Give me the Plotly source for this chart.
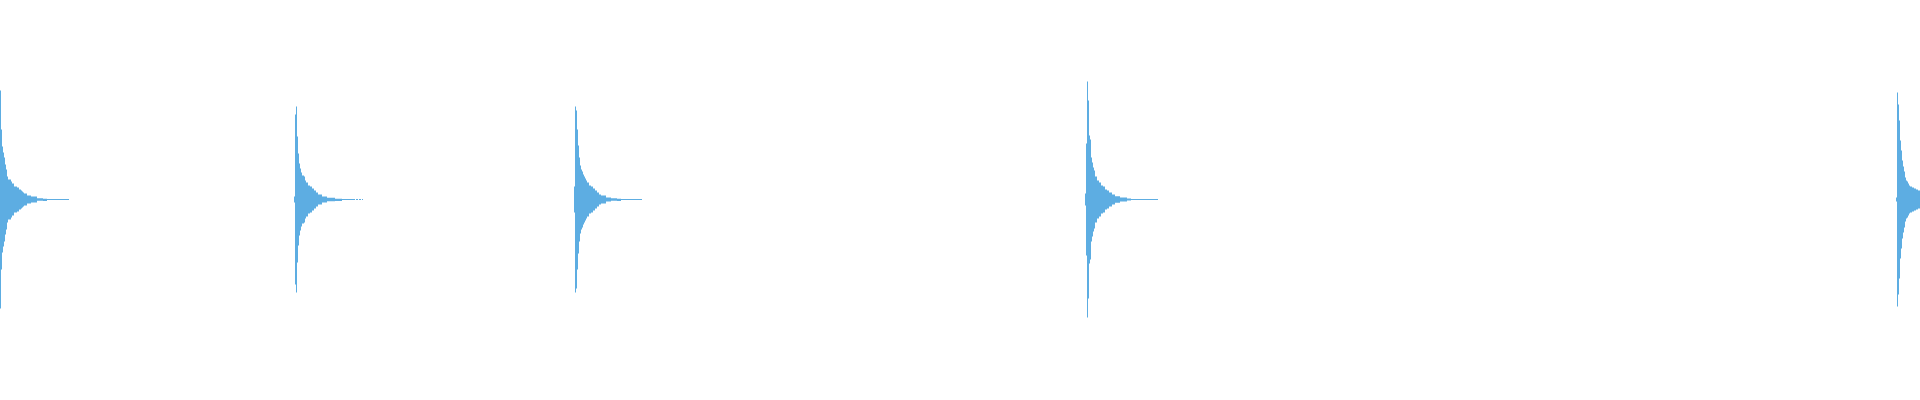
import plotly.graph_objects as go

# Waveform peaks, one value per 10 ms bin (symmetric around zero)
bin_ms = 10
total_ms = 19200

onsets_ms = [0, 2940, 5740, 10850, 18960]

peaks_1 = [109, 70, 53, 47, 42, 35, 30, 23, 20, 20, 20, 18, 16, 16, 13, 13, 13, 12, 12, 10,
           10, 9, 8, 7, 6, 6, 6, 4, 4, 4, 4, 3, 3, 3, 3, 3, 3, 1.3, 1.3, 1.3,
           1.3, 1.3, 1.3, 0.7, 0.7, 0.7, 0.7] + [0.5] * 22
peaks_2 = [3, 85, 93, 63, 46, 36, 31, 27, 24, 24, 23, 19, 17, 17, 14, 14, 13, 13, 11, 11,
           9, 9, 7, 7, 5, 5, 5, 5, 3, 3, 3, 3, 3] + [1.7] * 8 + [0.7] * 7 + \
          [0.5] * 12 + [0.5, 0, 0.5, 0.5, 0, 0.5, 0.5, 0, 0.5]
peaks_3 = [13, 93, 89, 70, 54, 42, 34, 30, 28, 25, 23, 21, 19, 17, 17, 14, 14, 13, 13, 11,
           11, 9, 9, 7, 7, 5, 5, 4, 4, 4, 4, 4, 2, 2, 2, 2, 2] + [1.3] * 6 + [0.7] * 4 + [0.5] * 21
peaks_4 = [6, 56, 118, 99, 64, 60, 42, 37, 32, 29, 23, 23, 19, 19, 17, 17, 14, 14, 13, 13,
           10, 10, 9, 9, 7, 7, 7, 5, 5, 5] + [3.3] * 5 + [2] * 7 + [1] * 4 + [0.5] * 27
peaks_5 = [2, 107, 95, 79, 59, 49, 39, 33, 28, 22, 19, 18, 16, 14, 13, 13, 12, 12, 11, 11,
           10, 10, 9, 9]

bursts = [peaks_1, peaks_2, peaks_3, peaks_4, peaks_5]

# Build bin centres and amplitudes
t = []
amp = []
for onset, peaks in zip(onsets_ms, bursts):
    for i, p in enumerate(peaks):
        t.append(onset + i * bin_ms + bin_ms / 2)
        amp.append(p)

fig = go.Figure(go.Bar(
    x=t,
    y=[2 * a for a in amp],
    base=[-a for a in amp],
    width=bin_ms,
    marker=dict(color="#5DADE2", line=dict(width=0)),
    hoverinfo="skip",
))

fig.update_layout(
    width=1920,
    height=400,
    margin=dict(l=0, r=0, t=0, b=0),
    paper_bgcolor="white",
    plot_bgcolor="white",
    showlegend=False,
    xaxis=dict(range=[0, total_ms], visible=False, fixedrange=True),
    yaxis=dict(range=[-200.5, 199.5], visible=False, fixedrange=True),
)

# drop the default page margin so the plot sits flush with the window
fig.write_html("out.html", config={"displayModeBar": False},
               post_script="document.body.style.margin='0';document.body.style.overflow='hidden';")
